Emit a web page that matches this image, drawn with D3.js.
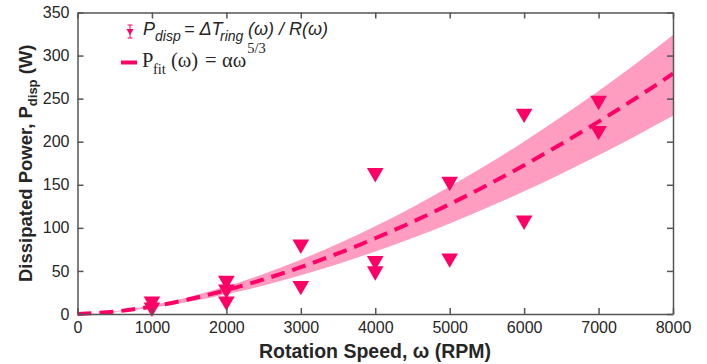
<!DOCTYPE html>
<html>
<head>
<meta charset="utf-8">
<script src="https://cdn.jsdelivr.net/npm/d3@7"></script>
<style>
  body { margin: 0; background: #fff; }
  svg { display: block; font-family: "Liberation Sans", Arial, sans-serif; }
</style>
</head>
<body>
<div id="chart"></div>
<script>
// measured points, P_disp in W at each speed (RPM)
const speeds = [1000, 1000, 2000, 2000, 2000, 3000, 3000, 4000, 4000, 4000, 5000, 5000, 6000, 6000, 7000, 7000];
const powers = [12, 5, 36, 26, 12, 78, 30, 161, 59, 47, 151, 62, 230, 106, 245, 210];

const fitSpeeds = [0, 500, 1000, 1500, 2000, 2500, 3000, 3500, 4000, 4500, 5000, 5500, 6000, 6500, 7000, 7500, 8000];
const fitPower = [0, 2.8, 8.7, 17.1, 27.7, 40.1, 54.4, 70.3, 87.9, 106.9, 127.5, 149.4, 172.7, 197.4, 223.3, 250.5, 279];
const bandHigh = [0, 3.2, 10.1, 19.8, 32.1, 46.5, 63.1, 81.5, 102, 124, 147.9, 173.3, 200.3, 229, 259, 290.6, 324];
const bandLow = [0, 2.3, 7.2, 14.1, 22.9, 33.1, 44.9, 58, 72.5, 88.2, 105.2, 123.3, 142.5, 162.9, 184.2, 206.7, 230];

const xTicks = [0, 1000, 2000, 3000, 4000, 5000, 6000, 7000, 8000];
const yTicks = [0, 50, 100, 150, 200, 250, 300, 350];

const width = 707, height = 364;
const plot = { left: 77.5, right: 673, top: 12.5, bottom: 314 };

const markColor = "#ff0066";
const bandColor = "#ff9dc0";
const axisColor = "#555";
const textColor = "#262626";

const svg = d3.select("#chart")
  .append("svg")
  .attr("width", width)
  .attr("height", height);

const x = d3.scaleLinear().domain([0, 8000]).range([plot.left, plot.right]);
const y = d3.scaleLinear().domain([0, 350]).range([plot.bottom, plot.top]);

// band
const area = d3.area()
  .x((d, i) => x(fitSpeeds[i]))
  .y0((d, i) => y(bandLow[i]))
  .y1(d => y(d))
  .curve(d3.curveMonotoneX);

svg.append("path")
  .datum(bandHigh)
  .attr("d", area)
  .attr("fill", bandColor);

// fit line
const line = d3.line()
  .x((d, i) => x(fitSpeeds[i]))
  .y(d => y(d))
  .curve(d3.curveMonotoneX);

svg.append("path")
  .datum(fitPower)
  .attr("d", line)
  .attr("fill", "none")
  .attr("stroke", markColor)
  .attr("stroke-width", 4)
  .attr("stroke-dasharray", "14,8");

// down triangles, shifted so the box centre sits on the value
const triSize = 120;
const triShift = Math.sqrt(triSize / (Math.sqrt(3) * 3)) / 2;
const tri = d3.symbol().type(d3.symbolTriangle).size(triSize);
svg.selectAll(".dot")
  .data(powers)
  .enter()
  .append("path")
  .attr("class", "dot")
  .attr("d", tri)
  .attr("transform", (d, i) => `translate(${x(speeds[i])},${y(d) - triShift}) rotate(180)`)
  .attr("fill", markColor);

// axes, ticks inside, mirrored on top and right
const tickLen = 6;
const fmt = d3.format("d");
svg.append("g")
  .attr("transform", `translate(0,${plot.bottom})`)
  .call(d3.axisBottom(x).tickValues(xTicks).tickFormat(fmt).tickSizeInner(-tickLen).tickSizeOuter(0).tickPadding(8));
svg.append("g")
  .attr("transform", `translate(0,${plot.top})`)
  .call(d3.axisTop(x).tickValues(xTicks).tickSizeInner(-tickLen).tickSizeOuter(0).tickFormat(""));
svg.append("g")
  .attr("transform", `translate(${plot.left},0)`)
  .call(d3.axisLeft(y).tickValues(yTicks).tickFormat(fmt).tickSizeInner(-tickLen).tickSizeOuter(0).tickPadding(8));
svg.append("g")
  .attr("transform", `translate(${plot.right},0)`)
  .call(d3.axisRight(y).tickValues(yTicks).tickSizeInner(-tickLen).tickSizeOuter(0).tickFormat(""));

svg.selectAll(".domain, .tick line")
  .attr("stroke", axisColor)
  .attr("stroke-width", 1.5);
svg.selectAll(".tick text")
  .attr("fill", textColor)
  .style("font-size", "16px")
  .style("font-family", "Liberation Sans, Arial, sans-serif");

// axis titles
svg.append("text")
  .attr("x", 375)
  .attr("y", 358)
  .attr("text-anchor", "middle")
  .attr("fill", textColor)
  .style("font-size", "19.5px")
  .style("font-weight", "bold")
  .text("Rotation Speed, ω (RPM)");

const yTitle = svg.append("text")
  .attr("transform", `translate(32,${(plot.top + plot.bottom) / 2}) rotate(-90)`)
  .attr("text-anchor", "middle")
  .attr("fill", textColor)
  .style("font-size", "18.5px")
  .style("font-weight", "bold");
yTitle.append("tspan").text("Dissipated Power, P");
yTitle.append("tspan").attr("dy", 5).style("font-size", "13px").text("disp");
yTitle.append("tspan").attr("dy", -5).text(" (W)");

// legend
const lg = svg.append("g");
// error bar icon
lg.append("line").attr("x1", 130).attr("x2", 130).attr("y1", 25).attr("y2", 38)
  .attr("stroke", markColor).attr("stroke-width", 1);
lg.append("line").attr("x1", 127.5).attr("x2", 132.5).attr("y1", 25).attr("y2", 25)
  .attr("stroke", markColor).attr("stroke-width", 1);
lg.append("line").attr("x1", 127.5).attr("x2", 132.5).attr("y1", 38).attr("y2", 38)
  .attr("stroke", markColor).attr("stroke-width", 1);
lg.append("path")
  .attr("d", d3.symbol().type(d3.symbolTriangle).size(22))
  .attr("transform", "translate(130,31) rotate(180)")
  .attr("fill", markColor);

const t1 = lg.append("text")
  .attr("y", 35)
  .attr("fill", textColor)
  .style("font-size", "18px")
  .style("font-style", "italic")
  .style("font-family", "Liberation Sans, Arial, sans-serif");
t1.append("tspan").attr("x", 143).text("P");
t1.append("tspan").attr("x", 155).attr("dy", 6).style("font-size", "14px").text("disp");
t1.append("tspan").attr("x", 184).attr("dy", -6).text("= ΔT");
t1.append("tspan").attr("x", 220).attr("dy", 6).style("font-size", "14px").text("ring");
t1.append("tspan").attr("x", 248).attr("dy", -6).text("(ω) / R(ω)");

lg.append("line").attr("x1", 121).attr("x2", 137).attr("y1", 62.5).attr("y2", 62.5)
  .attr("stroke", markColor).attr("stroke-width", 4);

const t2 = lg.append("text")
  .attr("y", 67)
  .attr("fill", textColor)
  .style("font-size", "20.5px")
  .style("font-family", "Liberation Serif, Times New Roman, serif");
t2.append("tspan").attr("x", 142).text("P");
t2.append("tspan").attr("x", 153).attr("dy", 7).style("font-size", "14.5px").text("fit");
t2.append("tspan").attr("x", 171).attr("dy", -7).text("(ω)");
t2.append("tspan").attr("x", 205).text("=");
t2.append("tspan").attr("x", 222).text("αω");
t2.append("tspan").attr("dx", 1).attr("dy", -14).style("font-size", "14.5px").text("5/3");
</script>
</body>
</html>
